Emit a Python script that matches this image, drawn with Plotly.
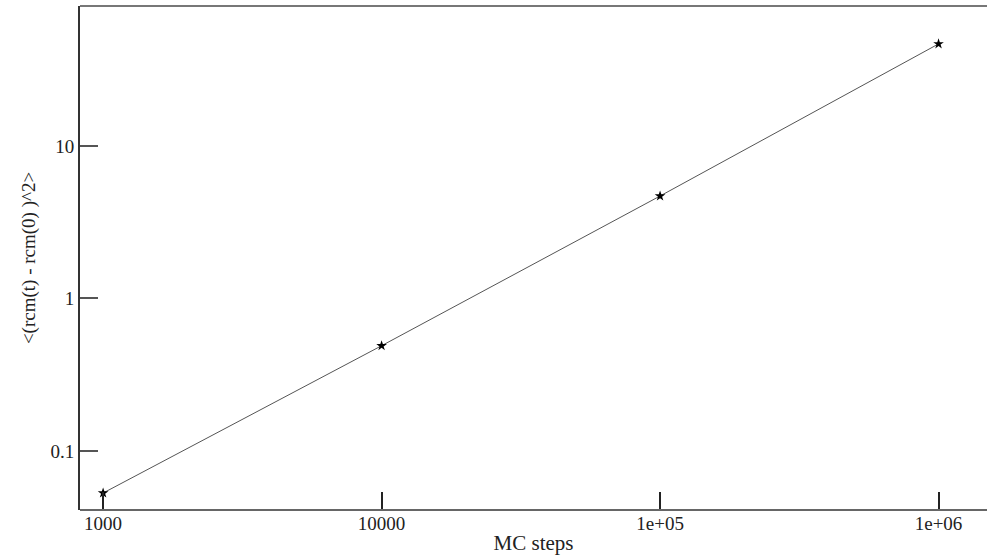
import plotly.graph_objects as go

steps = [1000, 10000, 100000, 1000000]
msd = [0.053, 0.49, 4.7, 46.7]

x_tickvals = [1000, 10000, 100000, 1000000]
x_ticktext = ["1000", "10000", "1e+05", "1e+06"]
y_tickvals = [0.1, 1, 10]
y_ticktext = ["0.1", "1", "10"]

font = "Liberation Serif, Times New Roman, serif"

fig = go.Figure()
fig.add_trace(go.Scatter(
    x=steps, y=msd, mode="lines+markers",
    line=dict(color="#555555", width=1),
    marker=dict(symbol="star", size=8, color="black"),
    showlegend=False,
))

fig.update_layout(
    width=987, height=558,
    margin=dict(l=80, r=0, t=6, b=48),
    paper_bgcolor="white", plot_bgcolor="white",
    font=dict(family=font, size=19, color="#222222"),
    shapes=[
        dict(type="line", xref="paper", yref="paper", x0=0, x1=1, y0=1, y1=1,
             line=dict(color="#777777", width=2)),
        dict(type="line", xref="paper", yref="paper", x0=0, x1=1, y0=0, y1=0,
             line=dict(color="#666666", width=2)),
    ],
)
fig.update_xaxes(
    type="log", range=[2.917, 6.174],
    tickvals=x_tickvals, ticktext=x_ticktext,
    ticks="inside", ticklen=18, tickwidth=2, tickcolor="#222222",
    showline=False, mirror=False,
    showgrid=False, zeroline=False,
    title=dict(text="MC steps", font=dict(size=21), standoff=2),
)
fig.update_yaxes(
    type="log", range=[-1.387, 1.918],
    tickvals=y_tickvals, ticktext=y_ticktext,
    ticks="inside", ticklen=18, tickwidth=1.5, tickcolor="#555555",
    showline=True, linecolor="#333333", linewidth=2, mirror=False,
    showgrid=False, zeroline=False,
    title=dict(text="<(rcm(t) - rcm(0) )^2>", font=dict(size=19), standoff=10),
)
fig.write_html("out.html")
